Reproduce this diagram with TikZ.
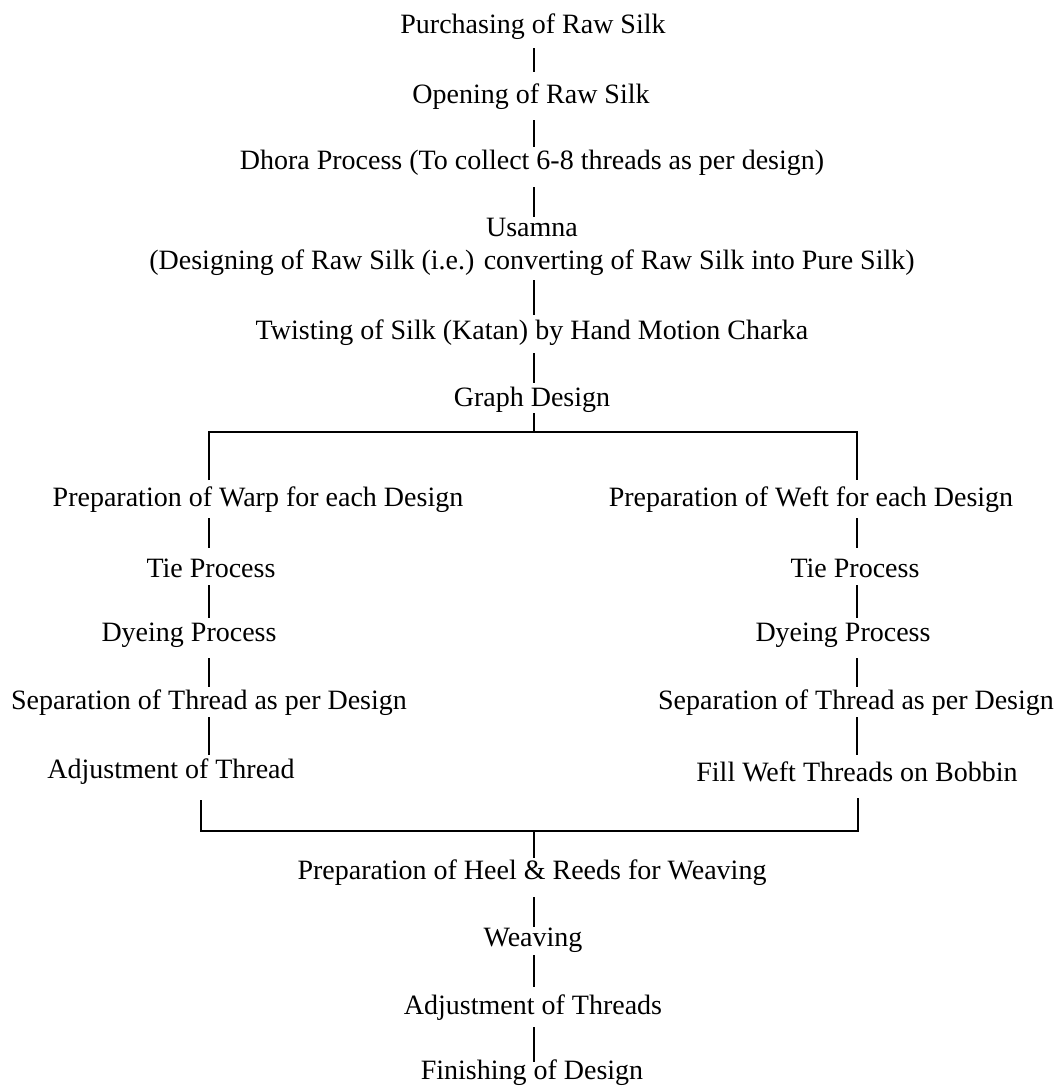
\documentclass[tikz,border=0pt]{standalone}
\usepackage{fontspec}
\setmainfont{Liberation Serif}
\usetikzlibrary{calc}
\begin{document}
\begin{tikzpicture}[x=1pt,y=-1pt,
  lbl/.style={inner sep=0pt,font=\fontsize{28}{33}\selectfont,align=center},
  conn/.style={line width=1.5pt,black}]
\useasboundingbox (0,0) rectangle (1060,1087);
% coordinates of the vertical rails
\coordinate (sx) at (534,0);
\coordinate (lx) at (209,0);
\coordinate (rx) at (857,0);
\coordinate (bl) at (201,0);
\coordinate (br) at (858,0);
\coordinate (ty) at (0,432);
\coordinate (by) at (0,831);
% main spine
\node[lbl] (purch) at (533,27) {Purchasing of Raw Silk};
\node[lbl] (open) at (531,97) {Opening of Raw Silk};
\node[lbl] (dhora) at (532,163) {Dhora Process (To collect 6-8 threads as per design)};
\node[lbl] (usamna) at (532,246.5) {Usamna\\(Designing of Raw Silk (i.e.) converting of Raw Silk into Pure Silk)};
\node[lbl] (twist) at (532,333) {Twisting of Silk (Katan) by Hand Motion Charka};
\node[lbl] (graph) at (532,400) {Graph Design};
% left column
\node[lbl] (warp) at (258,500) {Preparation of Warp for each Design};
\node[lbl] (tieL) at (211,568) {Tie Process};
\node[lbl] (dyeL) at (189,635) {Dyeing Process};
\node[lbl] (sepL) at (209,703) {Separation of Thread as per Design};
\node[lbl] (adjL) at (171,772) {Adjustment of Thread};
% right column
\node[lbl] (weft) at (811,500) {Preparation of Weft for each Design};
\node[lbl] (tieR) at (855,568) {Tie Process};
\node[lbl] (dyeR) at (843,635) {Dyeing Process};
\node[lbl] (sepR) at (856,703) {Separation of Thread as per Design};
\node[lbl] (fill) at (857,772) {Fill Weft Threads on Bobbin};
% bottom spine
\node[lbl] (heel) at (532,873) {Preparation of Heel \& Reeds for Weaving};
\node[lbl] (weav) at (533,940) {Weaving};
\node[lbl] (adjT) at (533,1008) {Adjustment of Threads};
\node[lbl] (fin) at (532,1073) {Finishing of Design};
% connectors main spine
\draw[conn,shorten <=21pt,shorten >=25pt] (purch.center -| sx) -- (open.center -| sx);
\draw[conn,shorten <=23pt,shorten >=16pt] (open.center -| sx) -- (dhora.center -| sx);
\draw[conn,shorten <=24pt,shorten >=29.5pt] (dhora.center -| sx) -- (usamna.center -| sx);
\draw[conn,shorten <=33.5pt,shorten >=18pt] (usamna.center -| sx) -- (twist.center -| sx);
\draw[conn,shorten <=20pt,shorten >=17pt] (twist.center -| sx) -- (graph.center -| sx);
\draw[conn,shorten <=13pt] (graph.center -| sx) -- (sx |- ty);
% split
\draw[conn,shorten <=20pt,shorten >=20pt] (warp.center -| lx) -- (lx |- ty) -- (rx |- ty) -- (weft.center -| rx);
% left column
\draw[conn,shorten <=18pt,shorten >=20pt] (warp.center -| lx) -- (tieL.center -| lx);
\draw[conn,shorten <=17pt,shorten >=17pt] (tieL.center -| lx) -- (dyeL.center -| lx);
\draw[conn,shorten <=23pt,shorten >=16pt] (dyeL.center -| lx) -- (sepL.center -| lx);
\draw[conn,shorten <=14pt,shorten >=17pt] (sepL.center -| lx) -- (adjL.center -| lx);
% right column
\draw[conn,shorten <=18pt,shorten >=20pt] (weft.center -| rx) -- (tieR.center -| rx);
\draw[conn,shorten <=17pt,shorten >=17pt] (tieR.center -| rx) -- (dyeR.center -| rx);
\draw[conn,shorten <=23pt,shorten >=16pt] (dyeR.center -| rx) -- (sepR.center -| rx);
\draw[conn,shorten <=14pt,shorten >=17pt] (sepR.center -| rx) -- (fill.center -| rx);
% merge
\draw[conn,shorten <=28pt,shorten >=26pt] (adjL.center -| bl) -- (bl |- by) -- (br |- by) -- (fill.center -| br);
\draw[conn,shorten >=15pt] (sx |- by) -- (heel.center -| sx);
% bottom spine
\draw[conn,shorten <=24pt,shorten >=13pt] (heel.center -| sx) -- (weav.center -| sx);
\draw[conn,shorten <=15pt,shorten >=21pt] (weav.center -| sx) -- (adjT.center -| sx);
\draw[conn,shorten <=19pt,shorten >=11pt] (adjT.center -| sx) -- (fin.center -| sx);
\end{tikzpicture}
\end{document}
